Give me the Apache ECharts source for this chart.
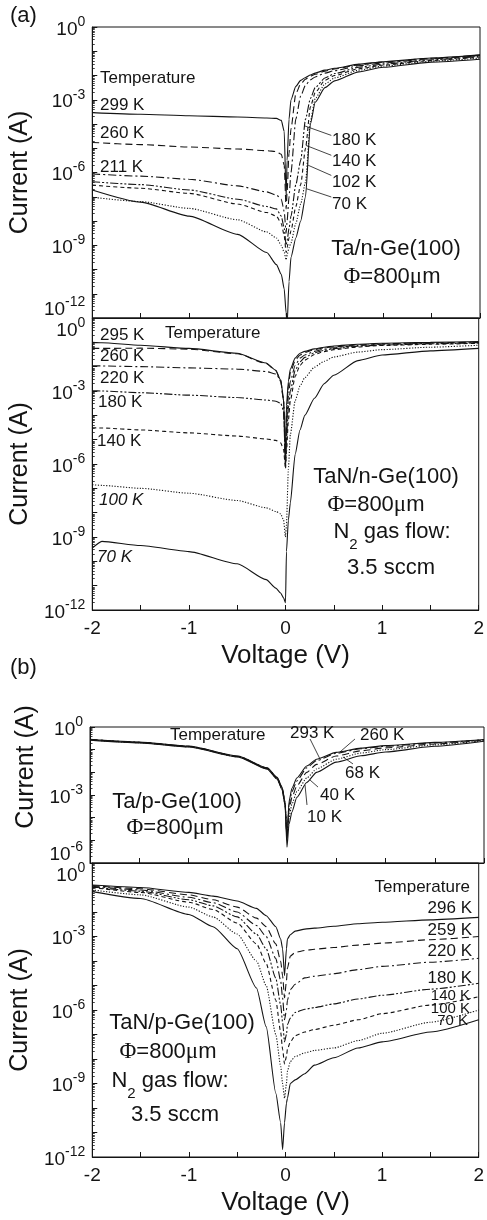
<!DOCTYPE html>
<html>
<head>
<meta charset="utf-8">
<title>I–V characteristics of Ta and TaN contacts on Ge(100)</title>
<script src="https://cdn.jsdelivr.net/npm/echarts@6/dist/echarts.min.js"></script>
<style>
  html, body { margin: 0; padding: 0; background: #fff; }
  #chart { width: 487px; height: 1220px; }
</style>
</head>
<body>
<div id="chart"></div>
<script>
// ---------------------------------------------------------------
// Measured I–V curves. Currents are stored as log10(I / A).
// ---------------------------------------------------------------

// (a) upper: Ta / n-Ge(100)
const voltsTa_n = [-2, -1.5, -1, -0.5, -0.2, -0.1, -0.05, -0.02, 0, 0.01, 0.03, 0.05, 0.1, 0.15, 0.2, 0.25, 0.3, 0.4, 0.5, 0.75, 1, 1.5, 2];
const logI_Ta_n_299 = [-3.53, -3.6, -3.66, -3.71, -3.75, -3.77, -3.85, -4.3, -7.0, -5.5, -3.8, -3.0, -2.45, -2.2, -2.08, -1.98, -1.9, -1.78, -1.7, -1.53, -1.43, -1.28, -1.15];
const logI_Ta_n_260 = [-4.76, -4.85, -4.95, -5.03, -5.1, -5.14, -5.25, -5.7, -7.5, -6.8, -5.2, -4.2, -2.75, -2.35, -2.15, -2.03, -1.95, -1.82, -1.73, -1.56, -1.45, -1.29, -1.16];
const logI_Ta_n_211 = [-6.06, -6.15, -6.28, -6.55, -6.8, -6.93, -7.1, -7.6, -8.5, -8.0, -7.0, -6.0, -3.8, -2.85, -2.4, -2.18, -2.06, -1.9, -1.8, -1.6, -1.48, -1.31, -1.18];
const logI_Ta_n_180 = [-6.38, -6.5, -6.72, -7.1, -7.4, -7.5, -7.8, -8.3, -9.0, -8.8, -8.3, -7.8, -6.5, -5.5, -3.8, -2.95, -2.5, -2.1, -1.92, -1.66, -1.53, -1.35, -1.21];
const logI_Ta_n_140 = [-6.52, -6.65, -6.86, -7.3, -7.65, -7.8, -8.1, -8.6, -9.3, -9.1, -8.7, -8.4, -7.4, -6.5, -5.0, -3.3, -2.7, -2.2, -2.0, -1.72, -1.57, -1.38, -1.24];
const logI_Ta_n_102 = [-7.02, -7.2, -7.48, -7.95, -8.45, -8.7, -9.0, -9.3, -9.6, -9.4, -9.1, -8.9, -8.1, -7.3, -6.4, -3.9, -2.95, -2.35, -2.1, -1.78, -1.61, -1.41, -1.28];
const logI_Ta_n_70  = [-6.72, -7.22, -7.8, -8.55, -9.3, -9.8, -10.2, -10.8, -11.8, -12.3, -10.5, -9.5, -8.7, -8.0, -7.0, -4.0, -3.1, -2.5, -2.22, -1.85, -1.66, -1.45, -1.33];

// (a) lower: TaN / n-Ge(100), N2 flow 3.5 sccm
const voltsTaN_n = [-2, -1.9, -1.5, -1, -0.5, -0.2, -0.1, -0.05, -0.02, 0, 0.01, 0.03, 0.05, 0.1, 0.15, 0.2, 0.3, 0.4, 0.5, 0.75, 1, 1.5, 2];
const logI_TaN_n_295 = [-1.0, -1.02, -1.12, -1.25, -1.45, -1.85, -2.15, -2.55, -3.3, -5.8, -3.6, -2.6, -2.1, -1.65, -1.45, -1.37, -1.27, -1.2, -1.15, -1.08, -1.04, -1.0, -0.97];
const logI_TaN_n_260 = [-1.25, -1.25, -1.24, -1.28, -1.47, -1.87, -2.17, -2.6, -3.4, -5.9, -4.0, -2.8, -2.25, -1.75, -1.52, -1.42, -1.3, -1.23, -1.18, -1.1, -1.06, -1.02, -0.99];
const logI_TaN_n_220 = [-1.96, -1.97, -2.0, -2.05, -2.1, -2.2, -2.3, -2.55, -3.4, -6.0, -4.5, -3.2, -2.6, -1.95, -1.65, -1.52, -1.37, -1.28, -1.22, -1.13, -1.08, -1.04, -1.01];
const logI_TaN_n_180 = [-2.99, -3.0, -3.07, -3.17, -3.27, -3.37, -3.42, -3.5, -3.8, -6.1, -5.0, -3.7, -3.0, -2.15, -1.8, -1.62, -1.43, -1.33, -1.26, -1.16, -1.11, -1.06, -1.02];
const logI_TaN_n_140 = [-4.51, -4.52, -4.6, -4.72, -4.85, -4.97, -5.03, -5.13, -5.4, -6.2, -5.5, -4.2, -3.4, -2.4, -1.95, -1.73, -1.5, -1.38, -1.3, -1.19, -1.13, -1.08, -1.04];
const logI_TaN_n_100 = [-6.85, -6.88, -7.0, -7.2, -7.5, -7.8, -7.95, -8.05, -8.3, -9.0, -8.5, -6.2, -4.8, -3.4, -2.8, -2.45, -2.02, -1.78, -1.6, -1.4, -1.3, -1.2, -1.12];
const logI_TaN_n_70  = [-9.46, -9.18, -9.35, -9.6, -10.1, -10.75, -11.1, -11.3, -11.5, -11.7, -9.6, -8.3, -7.6, -5.6, -4.6, -4.0, -3.3, -2.7, -2.35, -1.75, -1.52, -1.35, -1.25];

// (b) upper: Ta / p-Ge(100)
const voltsTa_p = [-2, -1.5, -1, -0.5, -0.2, -0.1, -0.05, -0.02, 0, 0.02, 0.05, 0.1, 0.2, 0.3, 0.5, 0.75, 1, 1.5, 2];
const logI_Ta_p_293 = [-0.54, -0.66, -0.84, -1.28, -1.8, -2.22, -2.65, -3.3, -5.0, -3.3, -2.7, -2.25, -1.72, -1.42, -1.12, -0.93, -0.82, -0.68, -0.55];
const logI_Ta_p_260 = [-0.55, -0.67, -0.85, -1.29, -1.81, -2.24, -2.68, -3.33, -4.9, -3.45, -2.85, -2.38, -1.8, -1.48, -1.16, -0.96, -0.85, -0.7, -0.56];
const logI_Ta_p_68  = [-0.56, -0.68, -0.86, -1.3, -1.83, -2.26, -2.7, -3.36, -4.8, -3.7, -3.1, -2.6, -2.0, -1.65, -1.28, -1.05, -0.92, -0.75, -0.58];
const logI_Ta_p_40  = [-0.57, -0.69, -0.87, -1.31, -1.84, -2.28, -2.73, -3.4, -4.7, -4.0, -3.4, -2.85, -2.25, -1.85, -1.42, -1.15, -1.0, -0.79, -0.6];
const logI_Ta_p_10  = [-0.58, -0.7, -0.88, -1.32, -1.86, -2.3, -2.76, -3.45, -5.3, -4.3, -3.75, -3.1, -2.45, -2.0, -1.55, -1.27, -1.1, -0.85, -0.63];

// (b) lower: TaN / p-Ge(100), N2 flow 3.5 sccm
const voltsTaN_p = [-2, -1.5, -1, -0.75, -0.5, -0.3, -0.2, -0.1, -0.05, -0.03, -0.01, 0.01, 0.02, 0.05, 0.1, 0.2, 0.3, 0.5, 0.75, 1, 1.5, 2];
const logI_TaN_p_296 = [-0.9, -1.0, -1.2, -1.35, -1.55, -1.85, -2.15, -2.6, -3.1, -3.5, -4.6, -3.5, -3.1, -2.93, -2.78, -2.7, -2.66, -2.58, -2.48, -2.42, -2.32, -2.22];
const logI_TaN_p_259 = [-0.92, -1.05, -1.3, -1.5, -1.8, -2.25, -2.6, -3.3, -4.0, -4.6, -5.5, -4.8, -4.3, -3.8, -3.65, -3.57, -3.52, -3.45, -3.35, -3.27, -3.13, -3.0];
const logI_TaN_p_220 = [-0.95, -1.1, -1.4, -1.62, -2.0, -2.55, -3.0, -3.9, -4.8, -5.5, -6.4, -6.0, -5.6, -5.17, -4.95, -4.69, -4.62, -4.52, -4.35, -4.22, -4.05, -3.89];
const logI_TaN_p_180 = [-0.98, -1.15, -1.5, -1.75, -2.2, -2.9, -3.5, -4.7, -5.8, -6.5, -7.3, -7.0, -6.6, -6.33, -6.1, -5.97, -5.9, -5.75, -5.55, -5.4, -5.15, -4.91];
const logI_TaN_p_140 = [-1.0, -1.2, -1.6, -1.9, -2.45, -3.3, -4.1, -5.6, -6.9, -7.6, -8.2, -7.9, -7.6, -7.3, -7.05, -6.9, -6.8, -6.62, -6.4, -6.15, -5.8, -5.46];
const logI_TaN_p_100 = [-1.1, -1.3, -1.8, -2.2, -2.9, -4.0, -5.0, -7.0, -8.3, -9.0, -9.6, -9.0, -8.5, -8.1, -7.9, -7.75, -7.65, -7.55, -7.25, -6.95, -6.5, -6.0];
const logI_TaN_p_70  = [-1.17, -1.45, -2.1, -2.6, -3.5, -5.1, -6.68, -9.4, -10.6, -11.7, -10.6, -9.8, -9.6, -9.0, -8.85, -8.6, -8.25, -7.95, -7.55, -7.3, -6.9, -6.4];

// Tick values
const voltageTicks = [-2, -1, 0, 1, 2];
const currentLabelsFull = [1e-12, 1e-9, 1e-6, 1e-3, 1];
const currentLabelsShort = [1e-6, 1e-3, 1];

// Leader lines from a curve to its temperature tag: [V1, log10 I1, V2, log10 I2]
const leadersTa_n = [[0.193, -4.08, 0.466, -4.47], [0.203, -4.88, 0.466, -5.29], [0.227, -5.70, 0.466, -6.12], [0.21, -6.67, 0.466, -7.01]];
const leadersTa_p = [[0.335, -1.41, 0.234, -0.53], [0.538, -1.10, 0.69, -0.53], [0.568, -1.32, 0.67, -1.63], [0.234, -2.34, 0.315, -2.65], [0.183, -2.56, 0.203, -3.44]];

// ---------------------------------------------------------------
// Styling and layout
// ---------------------------------------------------------------
const FONT = '"Liberation Sans", Arial, Helvetica, sans-serif';
const SERIF = '"Liberation Serif", "Times New Roman", serif';
const INK = '#141414';

const DASH = {
  solid: 'solid',
  dashed: [7, 4],
  dashDot: [8, 3, 2, 3],
  dashDotDot: [8, 2, 2, 2, 2, 2],
  shortDash: [4, 3],
  dotted: [1.2, 1.6]
};

const panels = [
  { left: 89, top: 27,  width: 391, height: 291, min: 1e-12, labels: currentLabelsFull,  xLabels: false, shiftMin: 'up', shiftMax: null,   namePad: 0,
    curves: [['299 K', voltsTa_n, logI_Ta_n_299, 'solid'], ['260 K', voltsTa_n, logI_Ta_n_260, 'dashed'], ['211 K', voltsTa_n, logI_Ta_n_211, 'dashDot'],
             ['180 K', voltsTa_n, logI_Ta_n_180, 'dashDotDot'], ['140 K', voltsTa_n, logI_Ta_n_140, 'shortDash'], ['102 K', voltsTa_n, logI_Ta_n_102, 'dotted'],
             ['70 K', voltsTa_n, logI_Ta_n_70, 'solid']],
    leaders: leadersTa_n },
  { left: 89, top: 318, width: 391, height: 292, min: 1e-12, labels: currentLabelsFull,  xLabels: true,  shiftMin: null, shiftMax: 'down', namePad: 0,
    curves: [['295 K', voltsTaN_n, logI_TaN_n_295, 'solid'], ['260 K', voltsTaN_n, logI_TaN_n_260, 'dashed'], ['220 K', voltsTaN_n, logI_TaN_n_220, 'dashDot'],
             ['180 K', voltsTaN_n, logI_TaN_n_180, 'dashDotDot'], ['140 K', voltsTaN_n, logI_TaN_n_140, 'shortDash'], ['100 K', voltsTaN_n, logI_TaN_n_100, 'dotted'],
             ['70 K', voltsTaN_n, logI_TaN_n_70, 'solid']],
    leaders: [] },
  { left: 90, top: 727, width: 394, height: 136, min: 1e-6,  labels: currentLabelsShort, xLabels: false, shiftMin: 'up', shiftMax: null,   namePad: 56,
    curves: [['293 K', voltsTa_p, logI_Ta_p_293, 'solid'], ['260 K', voltsTa_p, logI_Ta_p_260, 'dashDot'], ['68 K', voltsTa_p, logI_Ta_p_68, 'dashed'],
             ['40 K', voltsTa_p, logI_Ta_p_40, 'dotted'], ['10 K', voltsTa_p, logI_Ta_p_10, 'solid']],
    leaders: leadersTa_p },
  { left: 90, top: 863, width: 394, height: 294, min: 1e-12, labels: currentLabelsFull,  xLabels: true,  shiftMin: null, shiftMax: 'down', namePad: 0,
    curves: [['296 K', voltsTaN_p, logI_TaN_p_296, 'solid'], ['259 K', voltsTaN_p, logI_TaN_p_259, 'dashed'], ['220 K', voltsTaN_p, logI_TaN_p_220, 'dashDot'],
             ['180 K', voltsTaN_p, logI_TaN_p_180, 'dashDotDot'], ['140 K', voltsTaN_p, logI_TaN_p_140, 'shortDash'], ['100 K', voltsTaN_p, logI_TaN_p_100, 'dotted'],
             ['70 K', voltsTaN_p, logI_TaN_p_70, 'solid']],
    leaders: [] }
];

const pow10 = e => Math.pow(10, e);

// decade ticks and the 2..9 sub-decade ticks of a log axis
function decadeValues(min) {
  const out = [];
  for (let n = Math.round(Math.log10(min)); n <= 0; n++) out.push(pow10(n));
  return out;
}
function subDecadeValues(min) {
  const out = [];
  for (let n = Math.round(Math.log10(min)); n < 0; n++) {
    for (let k = 2; k <= 9; k++) out.push(k * pow10(n));
  }
  return out;
}

const powerRich = {
  b: { fontFamily: FONT, fontSize: 19, lineHeight: 24, verticalAlign: 'bottom', color: INK },
  s: { fontFamily: FONT, fontSize: 14, lineHeight: 14, verticalAlign: 'top', color: INK },
  gap: { fontFamily: FONT, fontSize: 4, lineHeight: 21 }
};

function powerLabel(value, p) {
  const n = Math.round(Math.log10(value));
  const body = '{b|10}{s|' + n + '}';
  const nMin = Math.round(Math.log10(p.min));
  if (n === 0 && p.shiftMax === 'down') return '{gap| }\n' + body;
  if (n === nMin && p.shiftMin === 'up') return body + '\n{gap| }';
  return body;
}

const grids = [], xAxes = [], yAxes = [], series = [];

panels.forEach((p, i) => {
  grids.push({ left: p.left, top: p.top, width: p.width, height: p.height, show: true,
               borderColor: INK, borderWidth: 1, backgroundColor: 'transparent' });

  xAxes.push({
    gridIndex: i, type: 'value', min: -2, max: 2, interval: 0.5,
    axisLine: { show: true, onZero: false, lineStyle: { color: INK, width: 1 } },
    axisTick: { show: true, inside: true, length: 5, lineStyle: { color: INK } },
    axisLabel: {
      show: p.xLabels, margin: 9, fontFamily: FONT, fontSize: 19, color: INK,
      formatter: v => voltageTicks.includes(v) ? String(v) : ''
    },
    splitLine: { show: false },
    name: p.xLabels ? 'Voltage (V)' : '', nameLocation: 'middle', nameGap: 33,
    nameTextStyle: { fontFamily: FONT, fontSize: 26, color: INK }
  });

  // decade ticks + power-of-ten labels
  yAxes.push({
    gridIndex: i, type: 'log', logBase: 10, min: p.min, max: 1, position: 'left', offset: 0,
    axisLine: { show: true, onZero: false, lineStyle: { color: INK, width: 1 } },
    axisTick: { show: true, inside: true, length: 5, customValues: decadeValues(p.min), lineStyle: { color: INK } },
    axisLabel: { show: true, margin: 7, customValues: p.labels, formatter: v => powerLabel(v, p), rich: powerRich },
    splitLine: { show: false }, minorTick: { show: false },
    name: 'Current (A)', nameLocation: 'middle', nameRotate: 90, nameGap: 50,
    nameTextStyle: { fontFamily: FONT, fontSize: 25, color: INK, padding: [0, 0, 0, p.namePad] }
  });
  // sub-decade ticks
  yAxes.push({
    gridIndex: i, type: 'log', logBase: 10, min: p.min, max: 1, position: 'left', offset: 0,
    axisLine: { show: false, onZero: false },
    axisTick: { show: true, inside: true, length: 2.5, customValues: subDecadeValues(p.min), lineStyle: { color: INK, width: 0.8 } },
    axisLabel: { show: false }, splitLine: { show: false }
  });

  p.curves.forEach(([name, volts, logI, style], k) => {
    const s = {
      type: 'line', name, xAxisIndex: i, yAxisIndex: 2 * i,
      data: volts.map((v, j) => [v, pow10(logI[j])]),
      showSymbol: false, symbol: 'none', smooth: 0.2, smoothMonotone: 'x',
      lineStyle: { color: INK, width: 1.1, type: DASH[style] },
      clip: true, silent: true, animation: false, z: 3
    };
    if (k === 0 && p.leaders.length) {
      s.markLine = {
        silent: true, symbol: ['none', 'none'], animation: false,
        label: { show: false },
        lineStyle: { color: INK, width: 0.8, type: 'solid' },
        data: p.leaders.map(([v1, e1, v2, e2]) => [{ coord: [v1, pow10(e1)] }, { coord: [v2, pow10(e2)] }])
      };
    }
    series.push(s);
  });
});

// ---------------------------------------------------------------
// Text annotations
// ---------------------------------------------------------------
function note(text, x, y, size, align, italic) {
  return { type: 'text', x, y, silent: true, z: 20,
    style: { text, font: (italic ? 'italic ' : '') + size + 'px ' + FONT, fill: INK,
             align: align || 'left', verticalAlign: 'middle' } };
}
const phiRich = {
  g: { fontFamily: SERIF, fontSize: 23, fill: INK },
  t: { fontFamily: FONT, fontSize: 22, fill: INK }
};
function phiNote(x, y) {
  return { type: 'text', x, y, silent: true, z: 20,
    style: { text: '{g|Φ}{t|=800}{g|μ}{t|m}', rich: phiRich, align: 'center', verticalAlign: 'middle', fill: INK } };
}
function gasNote(x, y) {
  return { type: 'text', x, y: y + 3.5, silent: true, z: 20,
    style: { text: '{t|N}{sub|2}{t| gas flow:}', align: 'center', verticalAlign: 'middle', fill: INK,
      rich: {
        t: { fontFamily: FONT, fontSize: 22, lineHeight: 24, verticalAlign: 'top', fill: INK },
        sub: { fontFamily: FONT, fontSize: 15, lineHeight: 31, verticalAlign: 'bottom', fill: INK }
      } } };
}

const graphics = [
  note('(a)', 10, 16, 22),
  note('(b)', 10, 668, 22),

  // (a) Ta/n-Ge
  note('Temperature', 100, 78, 17),
  note('299 K', 100, 105, 17),
  note('260 K', 100, 133, 17),
  note('211 K', 100, 167, 17),
  note('180 K', 332, 140, 17),
  note('140 K', 332, 161, 17),
  note('102 K', 332, 182, 17),
  note('70 K', 332, 204, 17),
  note('Ta/n-Ge(100)', 396, 249, 22, 'center'),
  phiNote(392, 277),

  // (a) TaN/n-Ge
  note('295 K', 100, 335, 17),
  note('Temperature', 165, 333, 17),
  note('260 K', 100, 356, 17),
  note('220 K', 100, 378, 17),
  note('180 K', 98, 402, 17),
  note('140 K', 97, 441, 17),
  note('100 K', 99, 500, 17, 'left', true),
  note('70 K', 97, 557, 17, 'left', true),
  note('TaN/n-Ge(100)', 386, 477, 22, 'center'),
  phiNote(376, 505),
  gasNote(392, 533),
  note('3.5 sccm', 391, 568, 22, 'center'),

  // (b) Ta/p-Ge
  note('Temperature', 170, 735, 17),
  note('293 K', 290, 733, 17),
  note('260 K', 360, 735, 17),
  note('68 K', 345, 773, 17),
  note('40 K', 320, 795, 17),
  note('10 K', 307, 817, 17),
  note('Ta/p-Ge(100)', 177, 802, 22, 'center'),
  phiNote(175, 828),

  // (b) TaN/p-Ge
  note('Temperature', 470, 887, 17, 'right'),
  note('296 K', 472, 908, 17, 'right'),
  note('259 K', 472, 930, 17, 'right'),
  note('220 K', 472, 951, 17, 'right'),
  note('180 K', 472, 978, 17, 'right'),
  note('140 K', 470, 996, 15, 'right'),
  note('100 K', 470, 1009, 15, 'right'),
  note('70 K', 468, 1021, 15, 'right'),
  note('TaN/p-Ge(100)', 182, 1023, 22, 'center'),
  phiNote(168, 1052),
  gasNote(170, 1082),
  note('3.5 sccm', 175, 1115, 22, 'center')
];

const chart = echarts.init(document.getElementById('chart'), null, { renderer: 'canvas' });
chart.setOption({
  backgroundColor: '#ffffff',
  animation: false,
  textStyle: { fontFamily: FONT, color: INK },
  grid: grids,
  xAxis: xAxes,
  yAxis: yAxes,
  series,
  graphic: graphics
});
</script>
</body>
</html>
